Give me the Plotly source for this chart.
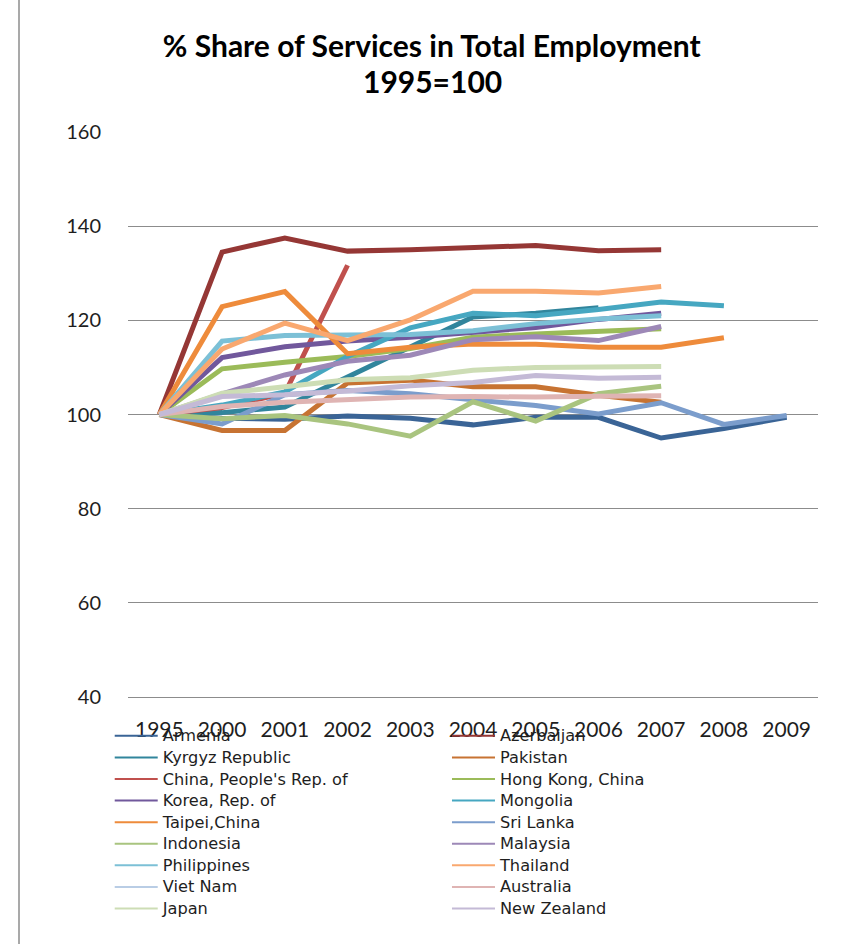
import plotly.graph_objects as go

# Index of the services share of total employment, 1995 = 100
years = ["1995", "2000", "2001", "2002", "2003", "2004",
         "2005", "2006", "2007", "2008", "2009"]

armenia      = [100, 99.2, 99.0, 99.7, 99.2, 97.8, 99.4, 99.4, 95.0, 97.0, 99.4]
azerbaijan   = [100, 134.5, 137.5, 134.7, 135.0, 135.5, 135.9, 134.8, 135.0, None, None]
kyrgyz       = [100, 100.4, 101.6, 108.0, 114.2, 120.7, 121.5, 122.7, None, None, None]
pakistan     = [100, 96.6, 96.6, 106.7, 107.3, 105.9, 105.9, 104.1, 102.6, None, None]
china        = [100, 101.5, 104.5, 131.7, None, None, None, None, None, None, None]
hong_kong    = [100, 109.7, 111.1, 112.3, 114.0, 116.4, 117.1, 117.7, 118.2, None, None]
korea        = [100, 112.1, 114.4, 115.6, 116.4, 117.5, 118.5, 120.2, 121.5, None, None]
mongolia     = [100, 102.0, 104.8, 112.3, 118.4, 121.5, 121.0, 122.3, 123.9, 123.1, None]
taipei       = [100, 122.9, 126.1, 112.9, 114.3, 115.0, 114.9, 114.3, 114.3, 116.3, None]
sri_lanka    = [100, 98.0, 104.2, 105.1, 104.4, 103.1, 101.9, 100.1, 102.5, 97.9, 99.8]
indonesia    = [100, 99.1, 99.8, 98.0, 95.4, 102.7, 98.6, 104.4, 106.0, None, None]
malaysia     = [100, 104.4, 108.4, 111.3, 112.6, 115.9, 116.5, 115.7, 118.7, None, None]
philippines  = [100, 115.6, 116.8, 117.0, 117.0, 117.8, 119.3, 120.3, 121.0, None, None]
thailand     = [100, 113.9, 119.4, 115.7, 120.1, 126.2, 126.2, 125.8, 127.2, None, None]
viet_nam     = [None] * 11
australia    = [100, 101.7, 102.6, 103.1, 103.7, 103.8, 103.7, 103.9, 104.0, None, None]
japan        = [100, 104.5, 105.9, 107.4, 107.8, 109.4, 110.0, 110.2, 110.2, None, None]
new_zealand  = [100, 103.8, 104.2, 105.0, 106.1, 106.8, 108.3, 107.7, 107.9, None, None]

series = [
    ("Armenia", armenia, "#3a6496"),
    ("Azerbaijan", azerbaijan, "#953735"),
    ("Kyrgyz Republic", kyrgyz, "#31859c"),
    ("Pakistan", pakistan, "#c77332"),
    ("China, People's Rep. of", china, "#c0504d"),
    ("Hong Kong, China", hong_kong, "#9bbb59"),
    ("Korea, Rep. of", korea, "#71589c"),
    ("Mongolia", mongolia, "#46a7c1"),
    ("Taipei,China", taipei, "#ee8b3b"),
    ("Sri Lanka", sri_lanka, "#7b9dcc"),
    ("Indonesia", indonesia, "#a9c47f"),
    ("Malaysia", malaysia, "#9d88b7"),
    ("Philippines", philippines, "#7cc0d6"),
    ("Thailand", thailand, "#f9a86f"),
    ("Viet Nam", viet_nam, "#b9cde5"),
    ("Australia", australia, "#dfb4b3"),
    ("Japan", japan, "#cdddb5"),
    ("New Zealand", new_zealand, "#c4bad6"),
]

fig = go.Figure()

# thick data lines
for name, vals, color in series:
    fig.add_trace(go.Scatter(
        x=years, y=vals, mode="lines", name=name,
        line=dict(color=color, width=5),
        connectgaps=False, showlegend=False, legendgroup=name,
        hovertemplate=name + "<br>%{x}: %{y:.1f}<extra></extra>",
    ))

# thin legend keys, split into two columns; the row pitch follows the
# legend font size while the label text itself is set a little larger
for i, (name, vals, color) in enumerate(series):
    fig.add_trace(go.Scatter(
        x=[None], y=[None], mode="lines",
        name='<span style="font-size:16.2px">' + name + "</span>",
        line=dict(color=color, width=2),
        legendgroup=name, showlegend=True,
        legend="legend" if i % 2 == 0 else "legend2",
    ))

grid = "#8c8c8c"
text_col = "#1e1e1e"
legend_font = dict(family="DejaVu Sans", size=14.3, color=text_col)

fig.update_layout(
    width=845, height=944,
    margin=dict(l=128, r=27, t=132, b=247),
    paper_bgcolor="white", plot_bgcolor="white",
    title=dict(
        text="<b>% Share of Services in Total Employment</b>",
        font=dict(family="Lato", size=30, color="#000000"),
        x=0.511, xref="container", xanchor="center",
        y=1 - 46 / 944, yref="container", yanchor="middle",
    ),
    annotations=[dict(
        text="<b>1995=100</b>", showarrow=False,
        font=dict(family="Lato", size=30, color="#000000"),
        x=(432 - 128) / 690, xref="paper", xanchor="center",
        y=(697 - 81) / 565, yref="paper", yanchor="middle",
    )],
    xaxis=dict(
        type="category", range=[-0.5, 10.5],
        showgrid=False, zeroline=False,
        showline=True, linecolor=grid, linewidth=1.3,
        ticks="", ticklabelstandoff=14,
        tickfont=dict(family="Lato", size=21, color=text_col),
    ),
    yaxis=dict(
        range=[40, 160], dtick=20, tick0=40,
        showgrid=True, gridcolor=grid, gridwidth=1.3,
        zeroline=False, showline=False, ticks="",
        ticklabelstandoff=26,
        tickfont=dict(family="Lato", size=20, color=text_col),
    ),
    legend=dict(
        x=-0.0265, y=-0.0407, xanchor="left", yanchor="top",
        orientation="v", bgcolor="rgba(0,0,0,0)", borderwidth=0,
        font=legend_font, tracegroupgap=0, itemwidth=43,
        traceorder="normal",
    ),
    legend2=dict(
        x=0.4623, y=-0.0407, xanchor="left", yanchor="top",
        orientation="v", bgcolor="rgba(0,0,0,0)", borderwidth=0,
        font=legend_font, tracegroupgap=0, itemwidth=43,
        traceorder="normal",
    ),
    shapes=[dict(
        type="line", xref="paper", yref="paper",
        x0=(19 - 128) / 690, x1=(19 - 128) / 690,
        y0=(697 - 944) / 565, y1=697 / 565,
        line=dict(color="#8c8c8c", width=1.5),
    )],
    showlegend=True,
)

fig.write_html("out.html")
